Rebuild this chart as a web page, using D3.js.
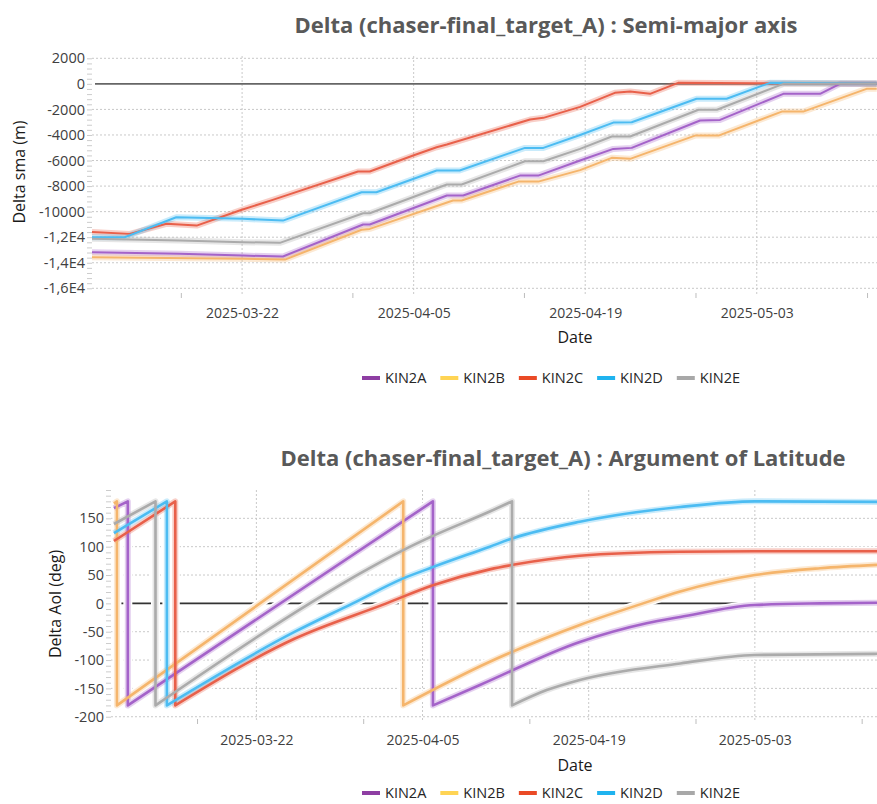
<!DOCTYPE html>
<html><head><meta charset="utf-8">
<script src="https://cdn.jsdelivr.net/npm/d3@7"></script>
<style>
body{margin:0;background:#fff;}
svg{display:block;font-family:"Segoe UI","Open Sans",sans-serif;}
</style></head><body>
<svg id="chart" width="877" height="804"></svg>
<script>
const seriesNames = ["KIN2A","KIN2B","KIN2C","KIN2D","KIN2E"];
const lineColors = ["#a463c9","#f5b56c","#e8604a","#4cbcf2","#ababab"];
const legendColors = ["#8e3ea3","#ffd454","#ea4a26","#1fb3ef","#a8a8a8"];

const smaTicks = [2000,0,-2000,-4000,-6000,-8000,-10000,-12000,-14000,-16000];
const smaTickLabels = ["2000","0","-2000","-4000","-6000","-8000","-10000","-1,2E4","-1,4E4","-1,6E4"];
const aolTicks = [150,100,50,0,-50,-100,-150,-200];
const aolTickLabels = ["150","100","50","0","-50","-100","-150","-200"];
const dateTicks = ["2025-03-22","2025-04-05","2025-04-19","2025-05-03"];
const minorDateTicks = ["2025-03-17","2025-03-31","2025-04-14","2025-04-28","2025-05-12"];

// Semi-major axis delta (m)
const smaKIN2A = [["2025-03-09T18:00",-13180],["2025-03-16T22:00",-13300],["2025-03-22T02:00",-13440],["2025-03-25T08:00",-13510],["2025-03-31T21:00",-11010],["2025-04-01T10:00",-11010],["2025-04-07T17:00",-8740],["2025-04-09T01:00",-8740],["2025-04-13T16:00",-7180],["2025-04-15T04:00",-7180],["2025-04-18T14:00",-6000],["2025-04-21T07:00",-5090],["2025-04-22T19:00",-5010],["2025-04-28T09:00",-2870],["2025-04-30T00:00",-2820],["2025-05-05T04:00",-780],["2025-05-08T04:00",-780],["2025-05-09T19:00",0],["2025-05-12T19:00",0]];
const smaKIN2B = [["2025-03-09T18:00",-13570],["2025-03-22T02:00",-13690],["2025-03-25T12:00",-13750],["2025-03-31T18:00",-11420],["2025-04-01T10:00",-11350],["2025-04-08T05:00",-9130],["2025-04-08T22:00",-9130],["2025-04-13T13:00",-7650],["2025-04-15T04:00",-7650],["2025-04-18T14:00",-6750],["2025-04-21T04:00",-5790],["2025-04-22T16:00",-5870],["2025-04-27T23:00",-4050],["2025-04-29T21:00",-4050],["2025-05-05T01:00",-2170],["2025-05-06T19:00",-2170],["2025-05-11T23:00",-390],["2025-05-12T19:00",-390]];
const smaKIN2C = [["2025-03-09T18:00",-11600],["2025-03-12T20:00",-11740],["2025-03-15T20:00",-10950],["2025-03-18T07:00",-11090],["2025-03-21T19:00",-9910],["2025-03-24T12:00",-9080],["2025-03-31T11:00",-6860],["2025-04-01T10:00",-6860],["2025-04-04T23:00",-5610],["2025-04-06T21:00",-4960],["2025-04-07T17:00",-4750],["2025-04-14T12:00",-2790],["2025-04-15T14:00",-2660],["2025-04-18T14:00",-1800],["2025-04-21T10:00",-700],["2025-04-22T16:00",-600],["2025-04-24T07:00",-780],["2025-04-26T14:00",80],["2025-05-03T00:00",50],["2025-05-12T19:00",30]];
const smaKIN2D = [["2025-03-09T18:00",-12000],["2025-03-12T10:00",-12000],["2025-03-16T15:00",-10440],["2025-03-22T02:00",-10560],["2025-03-25T08:00",-10700],["2025-03-31T18:00",-8480],["2025-04-01T23:00",-8480],["2025-04-06T21:00",-6780],["2025-04-08T18:00",-6780],["2025-04-14T02:00",-5010],["2025-04-15T14:00",-5010],["2025-04-18T14:00",-4000],["2025-04-21T07:00",-3030],["2025-04-22T19:00",-3000],["2025-04-28T02:00",-1170],["2025-04-30T13:00",-1170],["2025-05-04T02:00",80],["2025-05-12T19:00",20]];
const smaKIN2E = [["2025-03-09T18:00",-12130],["2025-03-16T22:00",-12260],["2025-03-22T02:00",-12390],["2025-03-25T02:00",-12440],["2025-03-31T21:00",-10130],["2025-04-01T10:00",-10130],["2025-04-07T17:00",-7880],["2025-04-08T22:00",-7880],["2025-04-14T02:00",-6060],["2025-04-15T14:00",-6060],["2025-04-18T14:00",-5090],["2025-04-21T04:00",-4120],["2025-04-22T16:00",-4120],["2025-04-28T06:00",-2030],["2025-04-29T18:00",-2030],["2025-05-05T04:00",0],["2025-05-12T19:00",0]];

// Argument of latitude delta (deg)
const aolKIN2A = [["2025-03-10T00:00",168],["2025-03-11T04:00",180],["2025-03-11T04:00",-180],["2025-04-05T21:00",180],["2025-04-05T21:00",-180],["2025-04-09T20:00",-144],["2025-04-18T06:00",-68],["2025-04-23T21:00",-35],["2025-04-26T17:00",-24],["2025-05-03T00:00",-3],["2025-05-08T12:00",0],["2025-05-13T07:00",1]];
const aolKIN2B = [["2025-03-10T00:00",176],["2025-03-10T06:00",180],["2025-03-10T06:00",-180],["2025-04-03T09:00",180],["2025-04-03T09:00",-180],["2025-04-10T16:00",-103],["2025-04-18T06:00",-38],["2025-04-23T14:00",0],["2025-04-26T17:00",21],["2025-05-03T00:00",50],["2025-05-08T12:00",62],["2025-05-13T07:00",68]];
const aolKIN2C = [["2025-03-10T00:00",110],["2025-03-15T04:00",180],["2025-03-15T04:00",-180],["2025-03-25T06:00",-62],["2025-04-01T23:00",0],["2025-04-05T21:00",32],["2025-04-10T16:00",60],["2025-04-12T15:00",68],["2025-04-18T06:00",84],["2025-04-26T17:00",91],["2025-05-03T00:00",92],["2025-05-13T07:00",92]];
const aolKIN2D = [["2025-03-10T00:00",124],["2025-03-14T11:00",180],["2025-03-14T11:00",-180],["2025-03-25T06:00",-50],["2025-03-30T03:00",0],["2025-04-03T09:00",44],["2025-04-05T21:00",64],["2025-04-10T16:00",100],["2025-04-12T15:00",115],["2025-04-18T06:00",144],["2025-04-26T17:00",170],["2025-05-03T00:00",180],["2025-05-13T07:00",179]];
const aolKIN2E = [["2025-03-10T00:00",140],["2025-03-13T12:00",180],["2025-03-13T12:00",-180],["2025-03-26T12:00",0],["2025-03-30T16:00",52],["2025-04-03T09:00",94],["2025-04-05T21:00",119],["2025-04-10T16:00",162],["2025-04-12T13:00",180],["2025-04-12T13:00",-180],["2025-04-15T11:00",-153],["2025-04-18T06:00",-135],["2025-04-26T17:00",-106],["2025-05-03T00:00",-91],["2025-05-13T07:00",-89]];

const parseT = d3.timeParse("%Y-%m-%dT%H:%M");
const parseD = d3.timeParse("%Y-%m-%d");
const svg = d3.select("#chart");

function panel(cfg){
  const g = svg.append("g");
  const x = d3.scaleTime().domain(cfg.xDomain.map(parseT)).range([cfg.left, cfg.right]);
  const y = d3.scaleLinear().domain(cfg.yDomain).range([cfg.bottom, cfg.top]);

  // horizontal grid
  g.append("g").selectAll("line").data(cfg.yTicks.filter(v=>v!==0)).join("line")
    .attr("x1", cfg.left).attr("x2", cfg.right)
    .attr("y1", d=>y(d)).attr("y2", d=>y(d))
    .attr("stroke","#c9c9c9").attr("stroke-width",1).attr("stroke-dasharray","2,2");
  // vertical grid
  g.append("g").selectAll("line").data(dateTicks).join("line")
    .attr("x1", d=>x(parseD(d))).attr("x2", d=>x(parseD(d)))
    .attr("y1", cfg.top).attr("y2", cfg.bottom+3)
    .attr("stroke","#c9c9c9").attr("stroke-width",1).attr("stroke-dasharray","2,2");

  // y minor ticks
  const minorY = d3.range(cfg.yDomainTicks[0], cfg.yDomainTicks[1]+1e-6, cfg.minorStep);
  const ym = g.append("g").attr("transform",`translate(${cfg.left},0)`)
    .call(d3.axisLeft(y).tickValues(minorY).tickSize(5).tickFormat(""));
  ym.select(".domain").remove();
  ym.selectAll("line").attr("stroke","#cccccc");

  // y labels
  const ya = g.append("g").attr("transform",`translate(${cfg.left-7},0)`)
    .call(d3.axisLeft(y).tickValues(cfg.yTicks).tickSize(0).tickPadding(0).tickFormat((d,i)=>cfg.yLabels[i]));
  ya.select(".domain").remove();
  ya.selectAll("text").attr("font-size",14.5).attr("fill","#404040")
    .attr("font-family",'"Segoe UI","Open Sans",sans-serif');

  // x minor ticks
  const xm = g.append("g").attr("transform",`translate(0,${cfg.bottom})`)
    .call(d3.axisBottom(x).tickValues(minorDateTicks.map(parseD)).tickSize(5).tickFormat(""));
  xm.select(".domain").remove();
  xm.selectAll("line").attr("stroke","#bdbdbd");

  // x labels
  const xa = g.append("g").attr("transform",`translate(0,${cfg.bottom})`)
    .call(d3.axisBottom(x).tickValues(dateTicks.map(parseD)).tickSize(0).tickPadding(cfg.xLabelPad).tickFormat(d3.timeFormat("%Y-%m-%d")));
  xa.select(".domain").remove();
  xa.selectAll("text").attr("font-size",14).attr("fill","#404040")
    .attr("font-family",'"Segoe UI","Open Sans",sans-serif');

  // zero line
  g.append("line").attr("x1", cfg.left+3).attr("x2", cfg.right).attr("y1", y(0)).attr("y2", y(0))
    .attr("stroke", cfg.zeroColor).attr("stroke-width", 1.6);

  // series
  const lineGen = d3.line().x(d=>x(parseT(d[0]))).y(d=>y(d[1])).curve(cfg.curve);
  function pathFor(data){
    // split into runs at wraps (same timestamp), draw each run, join vertically
    const runs = [[data[0]]];
    for(let i=1;i<data.length;i++){
      if(data[i][0]===data[i-1][0]) runs.push([data[i]]);
      else runs[runs.length-1].push(data[i]);
    }
    return runs.map((r,i)=>{
      let p = lineGen(r.length>1 ? r : [r[0], r[0]]);
      return i===0 ? p : "L" + p.slice(1);
    }).join("");
  }
  const paths = cfg.series.map(pathFor);
  const sg = g.append("g");
  paths.forEach(p=>{
    sg.append("path").attr("d",p).attr("fill","none").attr("stroke","#fff")
      .attr("stroke-width",cfg.haloW).attr("stroke-linejoin","round");
  });
  paths.forEach((p,i)=>{
    sg.append("path").attr("d",p).attr("fill","none").attr("stroke",lineColors[i])
      .attr("stroke-opacity",0.3).attr("stroke-width",6).attr("stroke-linejoin","round");
  });
  paths.forEach((p,i)=>{
    sg.append("path").attr("d",p).attr("fill","none").attr("stroke",lineColors[i])
      .attr("stroke-width",cfg.lineW).attr("stroke-linejoin","round");
  });

  // title
  svg.append("text").attr("x", cfg.titleX).attr("y", cfg.titleY).attr("text-anchor","middle")
    .attr("font-size",22).attr("font-weight","bold").attr("fill","#595959").text(cfg.title);
  // y axis title
  svg.append("text").attr("transform",`translate(${cfg.ylabX},${cfg.ylabY}) rotate(-90)`)
    .attr("text-anchor","middle").attr("font-size",16).attr("fill","#1a1a1a").text(cfg.ylabel);
  // x axis title
  svg.append("text").attr("x",575).attr("y",cfg.dateY).attr("text-anchor","middle")
    .attr("font-size",16).attr("fill","#1a1a1a").text("Date");

  // legend
  const lg = svg.append("g");
  let cx = 0;
  seriesNames.forEach((n,i)=>{
    lg.append("line").attr("x1",cx).attr("x2",cx+18).attr("y1",cfg.legendY).attr("y2",cfg.legendY)
      .attr("stroke",legendColors[i]).attr("stroke-width",4);
    const t = lg.append("text").attr("x",cx+23).attr("y",cfg.legendY+5).attr("font-size",14.5)
      .attr("fill","#262626").text(n);
    cx += 23 + t.node().getComputedTextLength() + 14;
  });
  const total = cx - 14;
  lg.attr("transform",`translate(${551 - total/2},0)`);
}

panel({
  left:92, right:877, top:56, bottom:293,
  xDomain:["2025-03-09T18:00","2025-05-12T19:30"],
  yDomain:[-16367,2180], yDomainTicks:[-16000,2000], minorStep:400,
  yTicks:smaTicks, yLabels:smaTickLabels, xLabelPad:15,
  zeroColor:"#666", curve:d3.curveLinear, lineW:2, haloW:0,
  series:[smaKIN2A,smaKIN2B,smaKIN2C,smaKIN2D,smaKIN2E],
  title:"Delta (chaser-final_target_A) : Semi-major axis", titleX:546, titleY:33,
  ylabel:"Delta sma (m)", ylabX:25, ylabY:172, dateY:343, legendY:378
});
panel({
  left:111, right:877, top:490, bottom:719,
  xDomain:["2025-03-09T18:00","2025-05-13T07:00"],
  yDomain:[-204,200], yDomainTicks:[-200,200], minorStep:10,
  yTicks:aolTicks, yLabels:aolTickLabels, xLabelPad:16,
  zeroColor:"#333", curve:d3.curveMonotoneX, lineW:2.6, haloW:9,
  series:[aolKIN2A,aolKIN2B,aolKIN2C,aolKIN2D,aolKIN2E],
  title:"Delta (chaser-final_target_A) : Argument of Latitude", titleX:563, titleY:466,
  ylabel:"Delta Aol (deg)", ylabX:61, ylabY:604, dateY:771, legendY:793
});
</script></body></html>
